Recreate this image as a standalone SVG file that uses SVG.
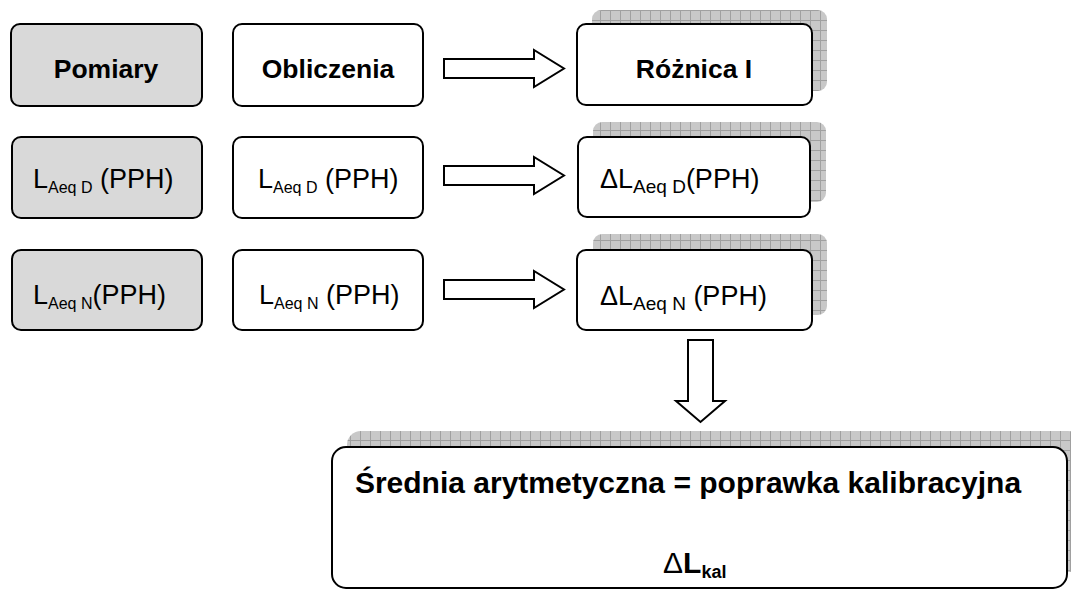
<svg xmlns="http://www.w3.org/2000/svg" width="1071" height="590" viewBox="0 0 1071 590">
<style>
.box{stroke:#000;stroke-width:2;}
.g{fill:#d9d9d9;}
.w{fill:#fff;}
.sh{fill:url(#grid);}
.hd{font-family:"Liberation Sans",Arial,sans-serif;font-weight:bold;font-size:26.5px;fill:#000;text-anchor:middle;}
.t{font-family:"Liberation Sans",Arial,sans-serif;font-size:27px;fill:#000;}
.sub{font-size:16px;}
.subb{font-size:19px;}
.big{font-family:"Liberation Sans",Arial,sans-serif;font-weight:bold;font-size:30px;fill:#000;}
.arr{fill:#fff;stroke:#000;stroke-width:2;stroke-linejoin:miter;}
</style>
<defs>
<pattern id="grid" width="10" height="10" patternUnits="userSpaceOnUse">
<rect width="10" height="10" fill="#c8c8c8"/>
<path d="M0 0.5H10M0.5 0V10" stroke="#a0a0a0" stroke-width="1" fill="none"/>
</pattern>
</defs>

<g id="pomiary">
<rect class="box g" x="11" y="24" width="191" height="82" rx="9"/>
<text class="hd" x="106" y="78">Pomiary</text>
</g>
<g id="obliczenia">
<rect class="box w" x="233" y="24" width="190" height="82" rx="9"/>
<text class="hd" x="328" y="78">Obliczenia</text>
</g>
<g id="roznica">
<rect class="sh" x="592" y="10" width="235" height="81" rx="9"/>
<rect class="box w" x="577" y="24" width="235" height="81" rx="9"/>
<text class="hd" x="694" y="78">Różnica I</text>
</g>

<g id="pom-d">
<rect class="box g" x="12" y="137" width="190" height="81" rx="9"/>
<text class="t" x="33" y="188">L<tspan class="sub" dy="5">Aeq D</tspan><tspan dy="-5"> (PPH)</tspan></text>
</g>
<g id="obl-d">
<rect class="box w" x="233" y="137" width="190" height="81" rx="9"/>
<text class="t" x="258" y="188">L<tspan class="sub" dy="5">Aeq D</tspan><tspan dy="-5"> (PPH)</tspan></text>
</g>
<g id="delta-d">
<rect class="sh" x="593" y="122" width="233" height="80" rx="9"/>
<rect class="box w" x="578" y="137" width="232" height="80" rx="9"/>
<text class="t" x="600" y="188">ΔL<tspan class="subb" dy="5">Aeq D</tspan><tspan dy="-5">(PPH)</tspan></text>
</g>

<g id="pom-n">
<rect class="box g" x="12" y="250" width="190" height="80" rx="9"/>
<text class="t" x="33" y="304">L<tspan class="sub" dy="5">Aeq N</tspan><tspan dy="-5">(PPH)</tspan></text>
</g>
<g id="obl-n">
<rect class="box w" x="233" y="250" width="190" height="80" rx="9"/>
<text class="t" x="259" y="304">L<tspan class="sub" dy="5">Aeq N</tspan><tspan dy="-5"> (PPH)</tspan></text>
</g>
<g id="delta-n">
<rect class="sh" x="593" y="234" width="234" height="81" rx="9"/>
<rect class="box w" x="577" y="250" width="235" height="80" rx="9"/>
<text class="t" x="600" y="305">ΔL<tspan class="subb" dy="5">Aeq N</tspan><tspan dy="-5"> (PPH)</tspan></text>
</g>

<g id="wynik">
<rect class="sh" x="347" y="431" width="735" height="141" rx="14"/>
<rect class="box w" x="332" y="447" width="735" height="141" rx="14"/>
<text class="big" x="688" y="493" text-anchor="middle">Średnia arytmetyczna = poprawka kalibracyjna</text>
<text class="big" x="663" y="573"><tspan font-weight="normal">Δ</tspan>L<tspan font-size="18" dy="5">kal</tspan></text>
</g>

<g id="connectors">
<path class="arr" d="M444 59H534V50L564 68.5L534 87V78H444Z"/>
<path class="arr" d="M444 166H534V157L564 175.5L534 194V185H444Z"/>
<path class="arr" d="M444 280H534V271L564 289.5L534 308V299H444Z"/>
<path class="arr" d="M688 340V401H676L700.5 422L725 401H713V340Z"/>
</g>
</svg>
